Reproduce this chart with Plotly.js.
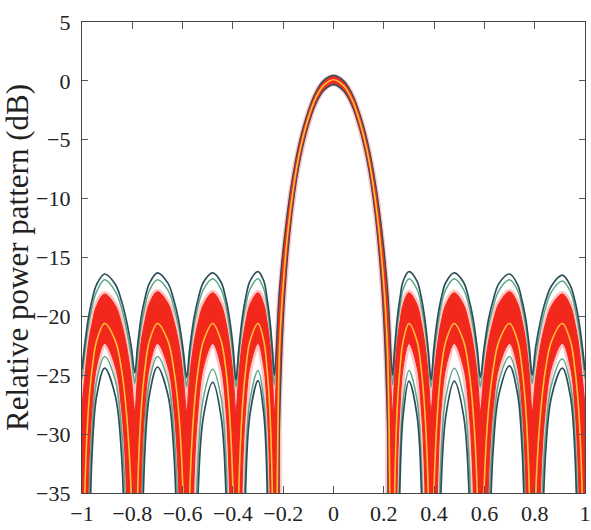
<!DOCTYPE html>
<html>
<head>
<meta charset="utf-8">
<script src="https://cdn.plot.ly/plotly-3.0.1.min.js"></script>
<style>html,body{margin:0;padding:0;background:#fff;}#chart{width:591px;height:530px;}</style>
</head>
<body>
<div id="chart"></div>
<script>
// sine-space coordinate u (shared by all curves)
const u = [-1.0, -0.989, -0.975, -0.960, -0.942, -0.910, -0.867, -0.843, -0.824, -0.804,
 -0.790, -0.779, -0.765, -0.750, -0.732, -0.700, -0.658, -0.635, -0.616, -0.598,
 -0.584, -0.572, -0.555, -0.538, -0.517, -0.480, -0.447, -0.428, -0.414, -0.399,
 -0.388, -0.377, -0.363, -0.349, -0.332, -0.300, -0.277, -0.264, -0.253, -0.243,
 -0.235, -0.215, -0.195, -0.168, -0.139, -0.105, -0.073, -0.040, 0, 0.040, 0.073, 0.105, 0.139, 0.168, 0.195, 0.215,
 0.235, 0.243, 0.253, 0.264, 0.277, 0.300, 0.332, 0.349, 0.363, 0.377,
 0.388, 0.399, 0.414, 0.428, 0.447, 0.480, 0.517, 0.538, 0.555, 0.572,
 0.584, 0.598, 0.616, 0.635, 0.658, 0.700, 0.732, 0.750, 0.765, 0.779,
 0.790, 0.804, 0.824, 0.843, 0.867, 0.910, 0.942, 0.960, 0.975, 0.989, 1.0];

// upper bound (dark)
const upperDark = [-24.5, -22.4, -20.2, -18.6, -17.3, -16.4, -17.3, -18.7, -20.3, -22.6,
 -24.8, -22.5, -20.1, -18.5, -17.2, -16.3, -17.2, -18.6, -20.3, -22.8,
 -25.2, -22.8, -20.2, -18.5, -17.1, -16.3, -17.1, -18.5, -20.1, -22.7,
 -25.4, -22.9, -20.2, -18.4, -17.0, -16.2, -17.0, -18.5, -20.3, -22.8,
 -25.0, -17.9, -13.4, -9.0, -5.6, -2.9, -1.1, 0.0, 0.45, 0.0, -1.1, -2.9, -5.6, -9.0, -13.4, -17.9,
 -25.0, -22.8, -20.3, -18.5, -17.0, -16.2, -17.0, -18.4, -20.2, -22.9,
 -25.4, -22.7, -20.1, -18.5, -17.1, -16.3, -17.1, -18.5, -20.2, -22.8,
 -25.2, -22.8, -20.3, -18.6, -17.2, -16.4, -17.3, -18.7, -20.3, -22.7,
 -25.0, -22.6, -20.3, -18.7, -17.4, -16.5, -17.4, -18.7, -20.3, -22.5, -24.6];

// upper bound (green)
const upperGreen = [-25.3, -23.1, -20.9, -19.2, -17.9, -16.9, -17.9, -19.3, -21.0, -23.4,
 -25.7, -23.4, -20.9, -19.2, -17.8, -16.9, -17.8, -19.2, -20.9, -23.4,
 -26.0, -23.5, -20.9, -19.1, -17.7, -16.8, -17.7, -19.1, -20.9, -23.4,
 -26.0, -23.5, -20.9, -19.1, -17.7, -16.8, -17.7, -19.2, -21.0, -23.5,
 -25.8, -18.3, -13.6, -9.1, -5.7, -2.95, -1.13, -0.04, 0.4, -0.04, -1.13, -2.95, -5.7, -9.1, -13.6, -18.3,
 -25.8, -23.5, -21.0, -19.2, -17.7, -16.8, -17.7, -19.1, -20.9, -23.5,
 -26.0, -23.4, -20.9, -19.1, -17.7, -16.8, -17.7, -19.1, -20.9, -23.5,
 -26.0, -23.4, -20.9, -19.2, -17.8, -16.9, -17.8, -19.2, -20.9, -23.4,
 -25.7, -23.4, -21.0, -19.3, -17.9, -17.0, -17.9, -19.3, -21.0, -23.2, -25.3];

// Monte-Carlo envelope (red band): maximum and minimum of the realisations
const redUpper = [-27.5, -25.2, -22.4, -20.6, -19.1, -18.1, -19.1, -20.6, -22.4, -25.2,
 -28.0, -25.0, -22.2, -20.4, -18.9, -17.9, -18.9, -20.4, -22.2, -25.0,
 -28.0, -25.1, -22.3, -20.5, -19.0, -18.0, -19.0, -20.5, -22.3, -25.1,
 -28.0, -25.1, -22.3, -20.5, -19.0, -18.0, -19.0, -20.5, -22.3, -25.1,
 -28.0, -19.1, -14.1, -9.4, -5.9, -3.1, -1.24, -0.14, 0.34, -0.14, -1.24, -3.1, -5.9, -9.4, -14.1, -19.1,
 -28.0, -25.1, -22.3, -20.5, -19.0, -18.0, -19.0, -20.5, -22.3, -25.1,
 -28.0, -25.1, -22.3, -20.5, -19.0, -18.0, -19.0, -20.5, -22.3, -25.1,
 -28.0, -25.0, -22.2, -20.4, -18.9, -17.9, -18.9, -20.4, -22.2, -25.0,
 -28.0, -25.2, -22.4, -20.6, -19.1, -18.1, -19.1, -20.6, -22.4, -25.2, -27.5];

const redLower = [-60, -60, -34.2, -27.8, -24.3, -22.3, -24.3, -27.8, -34.2, -60,
 -60, -60, -34.2, -27.8, -24.3, -22.3, -24.3, -27.8, -34.2, -60,
 -60, -60, -34.2, -27.8, -24.3, -22.3, -24.3, -27.8, -34.2, -60,
 -60, -60, -34.2, -27.8, -24.3, -22.3, -24.3, -27.8, -34.2, -60,
 -60, -26.4, -17.4, -11.2, -7.0, -3.9, -1.9, -0.7, -0.2, -0.7, -1.9, -3.9, -7.0, -11.2, -17.4, -26.4,
 -60, -60, -34.2, -27.8, -24.3, -22.3, -24.3, -27.8, -34.2, -60,
 -60, -60, -34.2, -27.8, -24.3, -22.3, -24.3, -27.8, -34.2, -60,
 -60, -60, -34.2, -27.8, -24.3, -22.3, -24.3, -27.8, -34.2, -60,
 -60, -60, -34.2, -27.8, -24.3, -22.3, -24.3, -27.8, -34.2, -60, -60];

// nominal pattern (yellow)
const nominal = [-60, -35.2, -28.0, -24.5, -22.1, -20.6, -22.1, -24.5, -28.0, -35.2,
 -60, -35.2, -28.0, -24.5, -22.1, -20.6, -22.1, -24.5, -28.0, -35.2,
 -60, -35.2, -28.0, -24.5, -22.1, -20.6, -22.1, -24.5, -28.0, -35.2,
 -60, -35.2, -28.0, -24.5, -22.1, -20.6, -22.1, -24.5, -28.0, -35.2,
 -60, -23.0, -15.9, -10.4, -6.5, -3.5, -1.55, -0.4, 0.1, -0.4, -1.55, -3.5, -6.5, -10.4, -15.9, -23.0,
 -60, -35.2, -28.0, -24.5, -22.1, -20.6, -22.1, -24.5, -28.0, -35.2,
 -60, -35.2, -28.0, -24.5, -22.1, -20.6, -22.1, -24.5, -28.0, -35.2,
 -60, -35.2, -28.0, -24.5, -22.1, -20.6, -22.1, -24.5, -28.0, -35.2,
 -60, -35.2, -28.0, -24.5, -22.1, -20.6, -22.1, -24.5, -28.0, -35.2, -60];

// lower bound (green)
const lowerGreen = [-60, -60, -37.7, -29.6, -25.5, -23.4, -25.5, -29.6, -37.7, -60,
 -60, -60, -37.7, -29.6, -25.5, -23.4, -25.5, -29.6, -37.7, -60,
 -60, -60, -45.5, -31.9, -26.9, -24.5, -26.9, -31.9, -45.5, -60,
 -60, -60, -47.0, -32.2, -27.1, -24.6, -27.1, -32.2, -47.0, -60,
 -60, -27.8, -17.9, -11.4, -7.17, -4.0, -1.97, -0.78, -0.26, -0.78, -1.97, -4.0, -7.17, -11.4, -17.9, -27.8,
 -60, -60, -47.0, -32.2, -27.1, -24.6, -27.1, -32.2, -47.0, -60,
 -60, -60, -44.7, -31.7, -26.8, -24.4, -26.8, -31.7, -44.7, -60,
 -60, -60, -37.7, -29.6, -25.5, -23.4, -25.5, -29.6, -37.7, -60,
 -60, -60, -38.7, -30.0, -25.8, -23.6, -25.8, -30.0, -38.7, -60, -60];

// lower bound (dark)
const lowerDark = [-60, -60, -44.7, -31.7, -26.8, -24.4, -26.8, -31.7, -44.7, -60,
 -60, -60, -43.7, -31.5, -26.7, -24.3, -26.7, -31.5, -43.7, -60,
 -60, -60, -60, -34.8, -28.5, -25.6, -28.5, -34.8, -60, -60,
 -60, -60, -60, -34.4, -28.3, -25.45, -28.3, -34.4, -60, -60,
 -60, -28.9, -18.2, -11.6, -7.27, -4.07, -2.03, -0.83, -0.31, -0.83, -2.03, -4.07, -7.27, -11.6, -18.2, -28.9,
 -60, -60, -60, -34.5, -28.4, -25.5, -28.4, -34.5, -60, -60,
 -60, -60, -60, -34.5, -28.4, -25.5, -28.4, -34.5, -60, -60,
 -60, -60, -42.9, -31.3, -26.6, -24.2, -26.6, -31.3, -42.9, -60,
 -60, -60, -44.7, -31.7, -26.8, -24.4, -26.8, -31.7, -44.7, -60, -60];

const xTicks = [-1, -0.8, -0.6, -0.4, -0.2, 0, 0.2, 0.4, 0.6, 0.8, 1];
const yTicks = [-35, -30, -25, -20, -15, -10, -5, 0, 5];

const sp = {shape: 'spline', smoothing: 1};
function ln(color, width) { return Object.assign({color: color, width: width}, sp); }

const traces = [
  // soft pink halo around the red band
  {x: u, y: redUpper, mode: 'lines', line: ln('rgba(255,150,150,0.55)', 6), hoverinfo: 'skip'},
  {x: u, y: redLower, mode: 'lines', line: ln('rgba(255,150,150,0.55)', 6), hoverinfo: 'skip'},
  {x: u, y: upperGreen, mode: 'lines', line: ln('#5aa888', 1.5), hoverinfo: 'skip'},
  {x: u, y: lowerGreen, mode: 'lines', line: ln('#5aa888', 1.5), hoverinfo: 'skip'},
  {x: u, y: upperDark, mode: 'lines', line: ln('#2b4f5a', 1.7), hoverinfo: 'skip'},
  {x: u, y: lowerDark, mode: 'lines', line: ln('#2b4f5a', 1.7), hoverinfo: 'skip'},
  {x: u, y: redUpper, mode: 'lines', line: ln('#f3281c', 1), hoverinfo: 'skip'},
  {x: u, y: redLower, mode: 'lines', line: ln('#f3281c', 1), fill: 'tonexty', fillcolor: '#f3281c', hoverinfo: 'skip'},
  {x: u, y: nominal, mode: 'lines', line: ln('#ffbf35', 1.6), hoverinfo: 'skip'}
];

const font = {family: 'Liberation Serif, Times New Roman, serif', color: '#222'};

const layout = {
  width: 591, height: 530,
  margin: {l: 82, r: 6, t: 22, b: 37},
  paper_bgcolor: '#fff', plot_bgcolor: '#fff',
  showlegend: false,
  font: Object.assign({size: 22}, font),
  xaxis: {
    range: [-1, 1], tickvals: xTicks, ticks: 'inside', ticklen: 7, tickcolor: '#555',
    showline: true, linecolor: '#444', linewidth: 1.2, mirror: 'ticks',
    showgrid: false, zeroline: false, tickfont: Object.assign({size: 22}, font)
  },
  yaxis: {
    range: [-35, 5], tickvals: yTicks, ticks: 'inside', ticklen: 6, tickcolor: '#555',
    showline: true, linecolor: '#444', linewidth: 1.2, mirror: 'ticks',
    showgrid: false, zeroline: false, tickfont: Object.assign({size: 22}, font),
    ticklabelstandoff: 6,
    title: {text: 'Relative power pattern (dB)', font: Object.assign({size: 31}, font), standoff: 2}
  }
};

Plotly.newPlot('chart', traces, layout, {staticPlot: true, displayModeBar: false});
</script>
</body>
</html>
